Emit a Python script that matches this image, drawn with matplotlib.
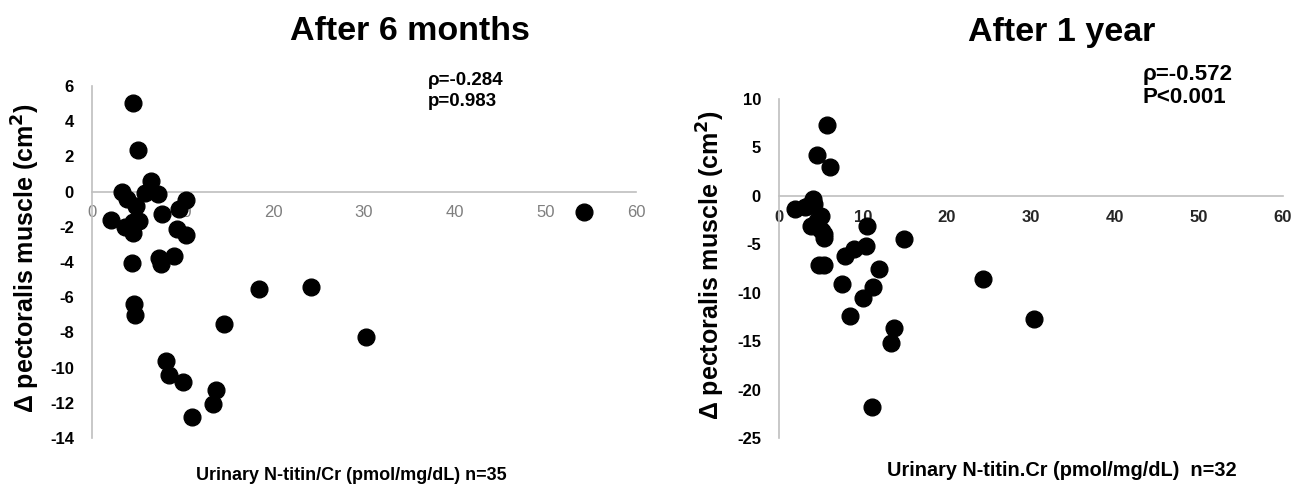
import numpy as np
import matplotlib
matplotlib.use("Agg")
import matplotlib.pyplot as plt

plt.rcParams['font.family'] = ['Liberation Sans', 'DejaVu Sans']
plt.rcParams['axes.unicode_minus'] = False

# After 6 months (n=35)
x6 = [4.5, 5.1, 6.5, 5.9, 7.3, 3.3, 3.9, 4.8, 2.1, 3.6,
      4.5, 5.2, 4.5, 7.7, 10.4, 9.6, 9.4, 10.4, 4.4, 7.4,
      7.6, 9.0, 18.4, 24.2, 14.6, 30.2, 4.6, 4.7, 8.2, 8.5,
      10.0, 13.7, 13.3, 11.0, 54.3]
y6 = [5.05, 2.39, 0.62, -0.08, -0.16, 0.0, -0.4, -0.8, -1.6, -2.0,
      -1.7, -1.68, -2.35, -1.26, -0.5, -1.0, -2.15, -2.44, -4.05, -3.8,
      -4.12, -3.65, -5.55, -5.4, -7.55, -8.25, -6.4, -7.0, -9.62, -10.4,
      -10.8, -11.25, -12.05, -12.8, -1.18]

# After 1 year (n=32)
x12 = [5.7, 4.5, 6.1, 4.0, 4.2, 1.9, 3.1, 5.0, 3.8, 4.9,
       5.3, 5.3, 10.5, 14.9, 4.8, 5.4, 7.9, 8.9, 10.4, 7.5,
       11.9, 10.0, 11.2, 8.45, 13.7, 13.3, 11.05, 24.3, 30.4, 4.5,
       3.5, 5.1]
y12 = [7.3, 4.2, 3.0, -0.3, -0.8, -1.35, -1.2, -2.1, -3.1, -3.4,
       -3.9, -4.3, -3.1, -4.5, -7.1, -7.1, -6.2, -5.5, -5.2, -9.05,
       -7.6, -10.55, -9.4, -12.45, -13.6, -15.15, -21.75, -8.6, -12.7, -2.6,
       -1.0, -3.6]

W, H = 1295, 491
fig = plt.figure(figsize=(W / 100, H / 100), dpi=100, facecolor="white")

def px(x0, y_top, x1, y_bot):
    return [x0 / W, 1 - y_bot / H, (x1 - x0) / W, (y_bot - y_top) / H]

ax1 = fig.add_axes(px(92, 86, 636, 438))
ax2 = fig.add_axes(px(779, 99, 1283, 438))

panels = [
    (ax1, x6, y6, (-14, 6), np.arange(-14, 7, 2), "#7f7f7f", "normal"),
    (ax2, x12, y12, (-25, 10), np.arange(-25, 11, 5), "#262626", "bold"),
]
for ax, xs, ys, ylim, yticks, xtc, xtw in panels:
    ax.scatter(xs, ys, s=145, color="black", zorder=3, clip_on=False)
    ax.set_xlim(0, 60)
    ax.set_ylim(*ylim)
    ax.set_xticks(np.arange(0, 61, 10))
    ax.set_yticks(yticks)
    ax.spines['bottom'].set_position(('data', 0))
    ax.spines['top'].set_visible(False)
    ax.spines['right'].set_visible(False)
    for side in ['left', 'bottom']:
        ax.spines[side].set_color("#bfbfbf")
        ax.spines[side].set_linewidth(1.2)
    ax.tick_params(length=0)
    ax.tick_params(axis='y', pad=13, labelsize=12)
    ax.tick_params(axis='x', pad=10, labelsize=12, labelcolor=xtc)
    for lab in ax.get_yticklabels():
        lab.set_fontweight("bold")
    for lab in ax.get_xticklabels():
        lab.set_fontweight(xtw)

ylab = "Δ pectoralis muscle (cm$^\\mathbf{2}$)"
fig.text(26 / W, 1 - 258 / H, ylab, rotation=90, ha="center", va="center",
         fontsize=18, fontweight="bold")
fig.text(711 / W, 1 - 265 / H, ylab, rotation=90, ha="center", va="center",
         fontsize=18, fontweight="bold")

fig.text(410 / W, 1 - 31 / H, "After 6 months", ha="center", va="center",
         fontsize=24.5, fontweight="bold")
fig.text(1062 / W, 1 - 33 / H, "After 1 year", ha="center", va="center",
         fontsize=24.5, fontweight="bold")

fig.text(351 / W, 1 - 476 / H, "Urinary N-titin/Cr (pmol/mg/dL) n=35",
         ha="center", va="center", fontsize=13, fontweight="bold")
fig.text(1062 / W, 1 - 470 / H, "Urinary N-titin.Cr (pmol/mg/dL)  n=32",
         ha="center", va="center", fontsize=14.3, fontweight="bold")

fig.text(428 / W, 1 - 91 / H, "ρ=-0.284\np=0.983", ha="left", va="center",
         fontsize=13.5, fontweight="bold", linespacing=1.3)
fig.text(1143 / W, 1 - 86 / H, "ρ=-0.572\nP<0.001", ha="left", va="center",
         fontsize=16, fontweight="bold", linespacing=1.15)

fig.savefig("out.png", dpi=100, facecolor="white")
